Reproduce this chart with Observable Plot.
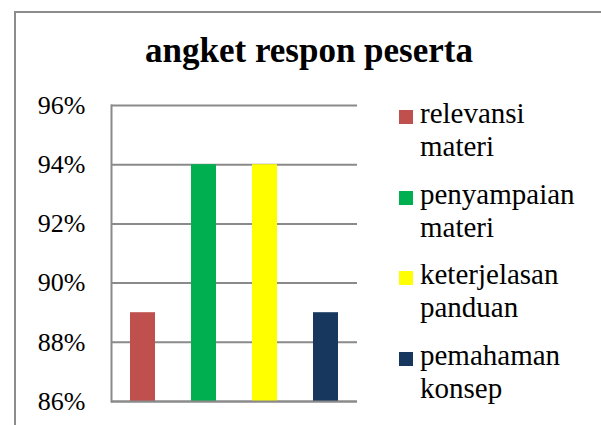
<!DOCTYPE html>
<html>
<head>
<meta charset="utf-8">
<script src="https://cdn.jsdelivr.net/npm/d3@7"></script>
<script src="https://cdn.jsdelivr.net/npm/@observablehq/plot@0.6"></script>
<style>
  html, body { margin: 0; padding: 0; background: #fff; }
  #wrap { position: relative; width: 601px; height: 425px; overflow: hidden; font-family: "Liberation Serif", "Times New Roman", Tinos, "DejaVu Serif", "Noto Serif", serif; }
  #frame { position: absolute; left: 14px; top: 11px; width: 700px; height: 500px; border: 2px solid #8c8c8c; box-sizing: border-box; }
  #title { position: absolute; left: 0; width: 618px; top: 32px; text-align: center; font-weight: bold; font-size: 35px; line-height: 38px; color: #000; }
  #chart { position: absolute; left: 0; top: 0; }
  .lg { position: absolute; left: 399px; width: 190px; font-size: 29px; line-height: 33px; color: #000; }
  .lg .sw { position: absolute; left: 0; top: 13px; width: 14px; height: 14px; }
  .lg .tx { position: absolute; left: 21px; top: 0; width: 170px; }
</style>
</head>
<body>
<div id="wrap">
  <div id="frame"></div>
  <div id="chart"></div>
  <div id="title"></div>
</div>
<script>
const title = "angket respon peserta";
const categories = ["relevansi materi", "penyampaian materi", "keterjelasan panduan", "pemahaman konsep"];
const values = [0.89, 0.94, 0.94, 0.89];
const colors = ["#C0504D", "#00B050", "#FFFF00", "#17375E"];
const yTicks = [0.86, 0.88, 0.90, 0.92, 0.94, 0.96];

const serif = "'Liberation Serif', 'Times New Roman', Tinos, 'DejaVu Serif', 'Noto Serif', serif";
const data = categories.map((c, i) => ({category: c, value: values[i]}));

const plot = Plot.plot({
  width: 601,
  height: 425,
  marginLeft: 111,
  marginRight: 244,
  marginTop: 105,
  marginBottom: 24,
  style: {fontFamily: serif, fontSize: "26px", color: "#000", background: "transparent", overflow: "visible"},
  x: {domain: categories, paddingInner: 0.59, paddingOuter: 0.295, axis: null},
  y: {domain: [0.86, 0.96], ticks: yTicks, tickFormat: d3.format(".0%"), tickSize: 0, tickPadding: 26, label: null},
  color: {domain: categories, range: colors},
  marks: [
    Plot.ruleY(yTicks, {stroke: "#8a8a8a", strokeWidth: 2, strokeOpacity: 1}),
    Plot.frame({anchor: "left", stroke: "#8a8a8a", strokeWidth: 2, strokeOpacity: 1}),
    Plot.barY(data, {x: "category", y1: 0.86, y2: "value", fill: "category"}),
    Plot.ruleY([0.86], {stroke: "#8a8a8a", strokeWidth: 2, strokeOpacity: 1})
  ]
});
document.getElementById("chart").appendChild(plot);
document.getElementById("title").textContent = title;

const wrap = document.getElementById("wrap");
categories.forEach((c, i) => {
  const item = document.createElement("div");
  item.className = "lg";
  item.style.top = (97 + i * 80.5) + "px";
  const sw = document.createElement("div");
  sw.className = "sw";
  sw.style.background = colors[i];
  const tx = document.createElement("div");
  tx.className = "tx";
  tx.textContent = c;
  item.appendChild(sw);
  item.appendChild(tx);
  wrap.appendChild(item);
});
</script>
</body>
</html>
